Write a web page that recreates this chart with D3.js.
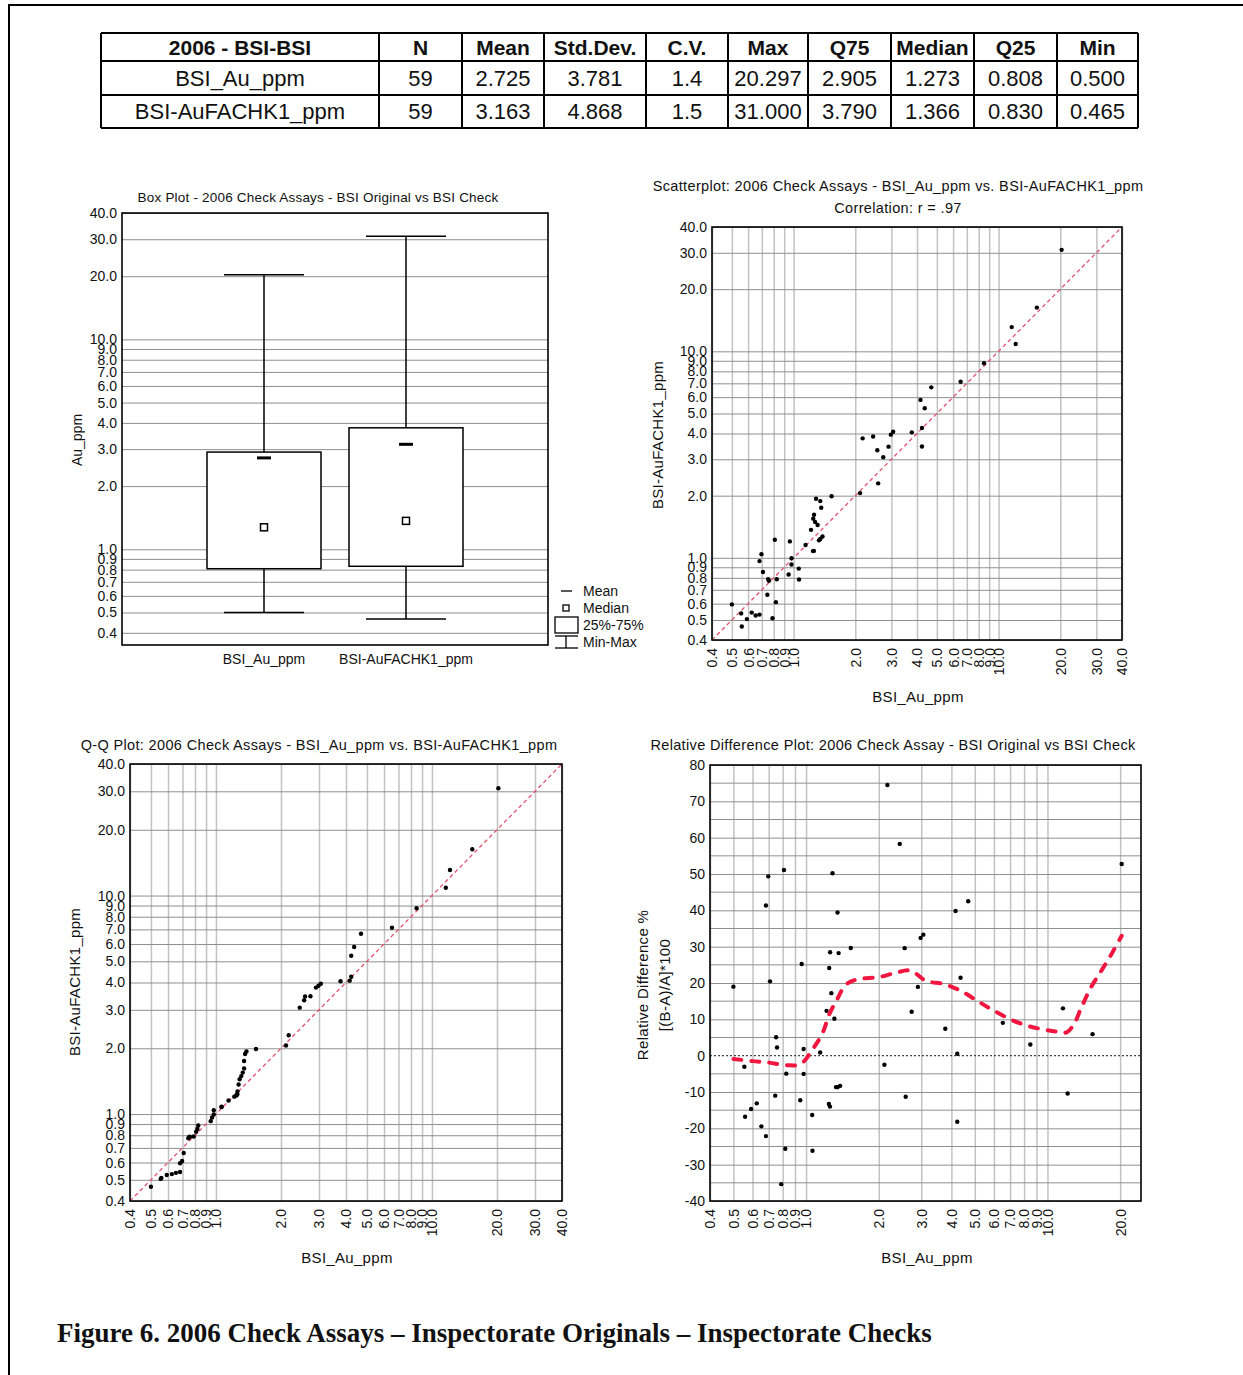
<!DOCTYPE html>
<html>
<head>
<meta charset="utf-8">
<title>2006 Check Assays</title>
<style>
body { margin: 0; background: #fff; }
svg text { font-family: "Liberation Sans", Arial, sans-serif; fill: #111; }
.tick text { font-size: 14px; }
.title { font-size: 14.5px; letter-spacing: 0.35px; }
.title.small { font-size: 13.5px; letter-spacing: 0.2px; }
.axis-title { font-size: 15px; letter-spacing: 0.3px; }
.cat-label, .legend-label { font-size: 14px; }
.frame { fill: none; stroke: #000; stroke-width: 1.6; }
.hgrid line { stroke: #8f8f8f; stroke-width: 1; }
.vgrid line { stroke: #c2c2c2; stroke-width: 1.5; }
</style>
</head>
<body>
<svg id="fig" width="1243" height="1375"></svg>
<script src="https://d3js.org/d3.v7.min.js"></script>
<script>
// ---------------- data ----------------
var variables = ["BSI_Au_ppm", "BSI-AuFACHK1_ppm"];
var statN = [59, 59];
var statMean = [2.725, 3.163];
var statStd = [3.781, 4.868];
var statCV = [1.4, 1.5];
var statMax = [20.297, 31.000];
var statQ75 = [2.905, 3.790];
var statMedian = [1.273, 1.366];
var statQ25 = [0.808, 0.830];
var statMin = [0.500, 0.465];

var logTicks = [0.4, 0.5, 0.6, 0.7, 0.8, 0.9, 1, 2, 3, 4, 5, 6, 7, 8, 9, 10, 20, 30, 40];
var relTicks = [-40, -30, -20, -10, 0, 10, 20, 30, 40, 50, 60, 70, 80];
var relGrid = [-35, -25, -15, -5, 5, 15, 25, 35, 45, 55, 65, 75];

// original assay (A) and check assay (B), ppm
var auOriginal = [0.500, 0.555, 0.559, 0.592, 0.625, 0.653, 0.682, 0.682, 0.697, 0.709,
  0.745, 0.751, 0.758, 0.810, 0.820, 0.828, 0.789, 0.946, 0.959, 0.977,
  0.977, 1.060, 1.063, 1.144, 1.243, 1.256, 1.287, 1.258, 1.247, 1.273,
  1.216, 2.172, 2.443, 1.350, 1.364, 1.532, 2.561, 2.983, 3.060, 2.905,
  2.738, 3.773, 4.161, 4.695, 4.364, 4.229, 4.229, 2.111, 2.586, 1.350,
  1.384, 6.530, 8.490, 11.590, 12.120, 15.370, 20.297, 1.310, 1.330];
var auCheck = [0.595, 0.538, 0.465, 0.505, 0.543, 0.526, 0.531, 0.964, 1.041, 0.854,
  0.663, 0.789, 0.775, 1.224, 0.610, 0.787, 0.510, 0.830, 1.201, 0.995,
  0.928, 0.887, 0.785, 1.154, 1.078, 1.080, 1.933, 1.616, 1.548, 1.492,
  1.366, 3.790, 3.867, 1.882, 1.749, 1.986, 3.319, 3.950, 4.079, 3.455,
  3.069, 4.052, 5.817, 6.690, 5.300, 4.252, 3.459, 2.058, 2.294, 1.233,
  1.269, 7.120, 8.750, 13.100, 10.860, 16.280, 31.000, 1.443, 1.215];

// smoothed relative difference curve
var smoothX = [0.50, 0.60, 0.70, 0.83, 0.95, 1.06, 1.17, 1.25, 1.34, 1.46, 1.63, 2.0, 2.35, 2.71,
  3.14, 3.72, 4.36, 5.11, 5.92, 7.02, 8.1, 9.46, 10.9, 12.0, 12.9, 13.8, 15.2, 16.8, 18.5, 20.3];
var smoothY = [-0.9, -1.5, -1.9, -2.6, -2.3, 1.6, 6.2, 11.5, 15.3, 19.5, 21.0, 21.6, 22.8, 23.4,
  20.6, 19.7, 17.9, 15.1, 12.6, 10.0, 8.4, 7.3, 6.6, 6.4, 8.8, 13.2, 19.0, 23.6, 28.2, 33.0];

// ---------------- drawing ----------------
var svg = d3.select("#fig");
svg.append("rect").attr("width", 1243).attr("height", 1375).attr("fill", "#fff");

// page frame
svg.append("line").attr("x1", 8).attr("x2", 1243).attr("y1", 5).attr("y2", 5)
  .attr("stroke", "#000").attr("stroke-width", 2);
svg.append("line").attr("x1", 9).attr("x2", 9).attr("y1", 5).attr("y2", 1375)
  .attr("stroke", "#000").attr("stroke-width", 2);

// ---- statistics table ----
var f3 = d3.format(".3f"), f1 = d3.format(".1f");
var header = ["2006 - BSI-BSI", "N", "Mean", "Std.Dev.", "C.V.", "Max", "Q75", "Median", "Q25", "Min"];
var rows = variables.map(function(v, i) {
  return [v, String(statN[i]), f3(statMean[i]), f3(statStd[i]), f1(statCV[i]),
    f3(statMax[i]), f3(statQ75[i]), f3(statMedian[i]), f3(statQ25[i]), f3(statMin[i])];
});
var colEdges = [101, 379, 462, 544, 646, 728, 808, 891, 974, 1057, 1138];
var rowEdges = [33, 61, 95, 128];
var table = svg.append("g");
rowEdges.forEach(function(y) {
  table.append("line").attr("x1", colEdges[0]).attr("x2", colEdges[colEdges.length - 1])
    .attr("y1", y).attr("y2", y).attr("stroke", "#000").attr("stroke-width", 2);
});
colEdges.forEach(function(x) {
  table.append("line").attr("x1", x).attr("x2", x).attr("y1", rowEdges[0]).attr("y2", rowEdges[3])
    .attr("stroke", "#000").attr("stroke-width", 2);
});
[header].concat(rows).forEach(function(r, ri) {
  r.forEach(function(t, ci) {
    table.append("text")
      .attr("x", (colEdges[ci] + colEdges[ci + 1]) / 2)
      .attr("y", (rowEdges[ri] + rowEdges[ri + 1]) / 2 + 7.5)
      .attr("text-anchor", "middle")
      .style("font-size", ri === 0 ? "21px" : "22px")
      .style("font-weight", ri === 0 ? "bold" : "normal")
      .text(t);
  });
});

var fmtLog = d3.format(".1f");

function hAxis(g, y, ticks, fmt, left, right) {
  g.append("g").attr("class", "hgrid").attr("transform", "translate(" + left + ",0)")
    .call(d3.axisLeft(y).tickValues(ticks).tickFormat(fmt).tickSize(-(right - left)).tickPadding(5))
    .call(function(a) { a.select(".domain").remove(); });
}

function vAxis(g, x, ticks, fmt, top, bottom) {
  g.append("g").attr("class", "vgrid").attr("transform", "translate(0," + bottom + ")")
    .call(d3.axisBottom(x).tickValues(ticks).tickFormat(fmt).tickSize(-(bottom - top)))
    .call(function(a) {
      a.select(".domain").remove();
      a.selectAll("text").attr("transform", "rotate(-90)").attr("text-anchor", "end")
        .attr("x", -8).attr("y", 0).attr("dy", "0.35em");
    });
}

function frame(g, l, r, t, b) {
  g.append("rect").attr("class", "frame").attr("x", l).attr("y", t)
    .attr("width", r - l).attr("height", b - t);
}

function vTitle(g, x, y, txt, cls) {
  g.append("text").attr("class", cls || "axis-title").attr("text-anchor", "middle")
    .attr("transform", "translate(" + x + "," + y + ") rotate(-90)").text(txt);
}

function title(g, x, y, txt, cls) {
  g.append("text").attr("class", cls || "title").attr("x", x).attr("y", y)
    .attr("text-anchor", "middle").text(txt);
}

// ---- box plot ----
(function() {
  var L = 122, R = 548, T = 213, B = 645;
  var g = svg.append("g");
  var y = d3.scaleLog().domain([0.35, 40]).range([B, T]);
  var x = d3.scalePoint().domain(variables).range([L, R]).padding(1);
  hAxis(g, y, logTicks, fmtLog, L, R);
  frame(g, L, R, T, B);
  title(g, 318, 202, "Box Plot - 2006 Check Assays - BSI Original vs BSI Check", "title small");
  vTitle(g, 82, 440, "Au_ppm", "cat-label");
  variables.forEach(function(v, i) {
    var cx = x(v);
    g.append("line").attr("x1", cx).attr("x2", cx).attr("y1", y(statMin[i])).attr("y2", y(statMax[i]))
      .attr("stroke", "#000").attr("stroke-width", 1.5);
    [statMin[i], statMax[i]].forEach(function(w) {
      g.append("line").attr("x1", cx - 40).attr("x2", cx + 40).attr("y1", y(w)).attr("y2", y(w))
        .attr("stroke", "#000").attr("stroke-width", 1.5);
    });
    g.append("rect").attr("x", cx - 57).attr("width", 114)
      .attr("y", y(statQ75[i])).attr("height", y(statQ25[i]) - y(statQ75[i]))
      .attr("fill", "#fff").attr("stroke", "#000").attr("stroke-width", 1.5);
    g.append("rect").attr("x", cx - 7).attr("width", 14).attr("y", y(statMean[i]) - 1.5).attr("height", 3)
      .attr("fill", "#000");
    g.append("rect").attr("x", cx - 3.5).attr("width", 7).attr("y", y(statMedian[i]) - 3.5).attr("height", 7)
      .attr("fill", "#fff").attr("stroke", "#000").attr("stroke-width", 1.5);
    g.append("text").attr("class", "cat-label").attr("x", cx).attr("y", 664)
      .attr("text-anchor", "middle").text(v);
  });
  // legend
  var lg = g.append("g");
  lg.append("line").attr("x1", 561).attr("x2", 572).attr("y1", 591).attr("y2", 591).attr("stroke", "#000").attr("stroke-width", 1.3);
  lg.append("rect").attr("x", 563).attr("y", 605).attr("width", 6).attr("height", 6)
    .attr("fill", "#fff").attr("stroke", "#000").attr("stroke-width", 1.3);
  lg.append("rect").attr("x", 555).attr("y", 617).attr("width", 23).attr("height", 16)
    .attr("fill", "#fff").attr("stroke", "#000").attr("stroke-width", 1.3);
  lg.append("line").attr("x1", 555).attr("x2", 578).attr("y1", 636).attr("y2", 636).attr("stroke", "#000").attr("stroke-width", 1.3);
  lg.append("line").attr("x1", 566).attr("x2", 566).attr("y1", 636).attr("y2", 648).attr("stroke", "#000").attr("stroke-width", 1.3);
  lg.append("line").attr("x1", 555).attr("x2", 578).attr("y1", 648).attr("y2", 648).attr("stroke", "#000").attr("stroke-width", 1.3);
  [["Mean", 596], ["Median", 613], ["25%-75%", 630], ["Min-Max", 647]].forEach(function(d) {
    lg.append("text").attr("class", "legend-label").attr("x", 583).attr("y", d[1]).text(d[0]);
  });
})();

// ---- log-log panel (scatter and Q-Q) ----
function logLogPanel(L, R, T, B, xs, ys) {
  var g = svg.append("g");
  var x = d3.scaleLog().domain([0.4, 40]).range([L, R]);
  var y = d3.scaleLog().domain([0.4, 40]).range([B, T]);
  vAxis(g, x, logTicks, fmtLog, T, B);
  hAxis(g, y, logTicks, fmtLog, L, R);
  g.append("line").attr("x1", x(0.4)).attr("y1", y(0.4)).attr("x2", x(40)).attr("y2", y(40))
    .attr("stroke", "#e4506f").attr("stroke-width", 1.3).attr("stroke-dasharray", "4,3");
  frame(g, L, R, T, B);
  g.selectAll("circle.pt").data(xs).enter().append("circle").attr("class", "pt")
    .attr("cx", function(d) { return x(d); })
    .attr("cy", function(d, i) { return y(ys[i]); })
    .attr("r", 2.2).attr("fill", "#000");
  return g;
}

var sc = logLogPanel(712, 1122, 227, 640, auOriginal, auCheck);
title(sc, 898, 191, "Scatterplot: 2006 Check Assays - BSI_Au_ppm vs. BSI-AuFACHK1_ppm");
title(sc, 898, 213, "Correlation: r = .97");
vTitle(sc, 663, 435, "BSI-AuFACHK1_ppm");
sc.append("text").attr("class", "axis-title").attr("x", 918).attr("y", 702).attr("text-anchor", "middle").text("BSI_Au_ppm");

var sortedA = auOriginal.slice().sort(d3.ascending);
var sortedB = auCheck.slice().sort(d3.ascending);
var qq = logLogPanel(130, 562, 764, 1201, sortedA, sortedB);
title(qq, 319, 750, "Q-Q Plot: 2006 Check Assays - BSI_Au_ppm vs. BSI-AuFACHK1_ppm");
vTitle(qq, 80, 982, "BSI-AuFACHK1_ppm");
qq.append("text").attr("class", "axis-title").attr("x", 347).attr("y", 1263).attr("text-anchor", "middle").text("BSI_Au_ppm");

// ---- relative difference plot ----
(function() {
  var L = 710, R = 1141, T = 765, B = 1201;
  var g = svg.append("g");
  var x = d3.scaleLog().domain([0.4, 24.4]).range([L, R]);
  var y = d3.scaleLinear().domain([-40, 80]).range([B, T]);
  vAxis(g, x, logTicks.filter(function(t) { return t <= 20; }), fmtLog, T, B);
  g.append("g").attr("class", "hgrid").selectAll("line").data(relGrid).enter().append("line")
    .attr("x1", L).attr("x2", R).attr("y1", function(d) { return y(d); }).attr("y2", function(d) { return y(d); });
  hAxis(g, y, relTicks.filter(function(t) { return t !== 0; }), function(d) { return String(d); }, L, R);
  // zero line: label only, dotted
  g.append("text").attr("x", L - 5).attr("y", y(0)).attr("dy", "0.35em")
    .attr("text-anchor", "end").style("font-size", "14px").text("0");
  g.append("line").attr("x1", L).attr("x2", R).attr("y1", y(0)).attr("y2", y(0))
    .attr("stroke", "#444").attr("stroke-width", 1.2).attr("stroke-dasharray", "2,2");
  frame(g, L, R, T, B);
  var rel = auOriginal.map(function(a, i) { return (auCheck[i] - a) / a * 100; });
  g.selectAll("circle.pt").data(auOriginal).enter().append("circle").attr("class", "pt")
    .attr("cx", function(d) { return x(d); })
    .attr("cy", function(d, i) { return y(rel[i]); })
    .attr("r", 2.2).attr("fill", "#000");
  var line = d3.line().curve(d3.curveCatmullRom)
    .x(function(d) { return x(d); })
    .y(function(d, i) { return y(smoothY[i]); });
  g.append("path").attr("d", line(smoothX)).attr("fill", "none")
    .attr("stroke", "#f0163f").attr("stroke-width", 4).attr("stroke-linecap", "round")
    .attr("stroke-dasharray", "8,10");
  title(g, 893, 750, "Relative Difference Plot: 2006 Check Assay - BSI Original vs BSI Check");
  vTitle(g, 648, 985, "Relative Difference %");
  vTitle(g, 670, 985, "[(B-A)/A]*100");
  g.append("text").attr("class", "axis-title").attr("x", 927).attr("y", 1263).attr("text-anchor", "middle").text("BSI_Au_ppm");
})();

// ---- caption ----
svg.append("text").attr("x", 57).attr("y", 1342)
  .style("font-family", "'Liberation Serif', 'Times New Roman', serif")
  .style("font-weight", "bold").style("font-size", "27px")
  .text("Figure 6. 2006 Check Assays \u2013 Inspectorate Originals \u2013 Inspectorate Checks");
</script>
</body>
</html>
